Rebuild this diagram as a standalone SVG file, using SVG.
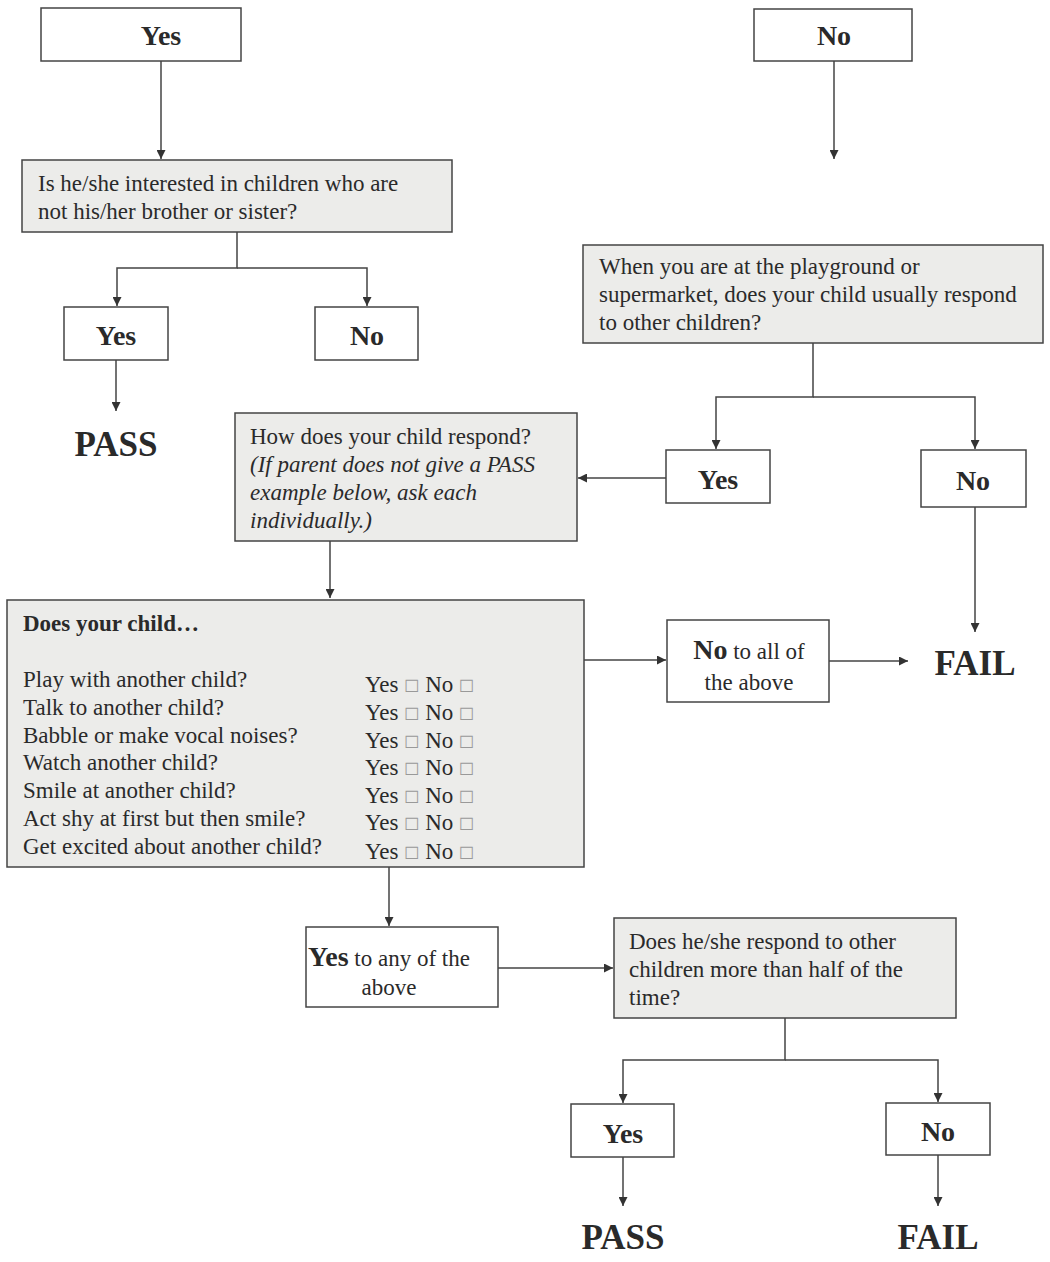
<svg xmlns="http://www.w3.org/2000/svg" width="1050" height="1262" viewBox="0 0 1050 1262">
  <style>
    .box { fill: #ffffff; stroke: #444; stroke-width: 1.5; }
    .q { fill: #ececea; stroke: #444; stroke-width: 1.5; }
    .t { font-family: "Liberation Serif", "Times New Roman", serif; font-size: 23px; fill: #2a2a2a; }
    .it { font-style: italic; }
    .lbl { font-family: "Liberation Serif", "Times New Roman", serif; font-size: 28px; font-weight: bold; fill: #2a2a2a; text-anchor: middle; }
    .res { font-family: "Liberation Serif", "Times New Roman", serif; font-size: 35px; font-weight: bold; fill: #2a2a2a; text-anchor: middle; }
    .ck { font-family: "DejaVu Sans", sans-serif; font-size: 17px; fill: #999; }
    .ln { fill: none; stroke: #444; stroke-width: 1.5; }
  </style>
  <defs>
    <marker id="ah" viewBox="0 0 10 10" refX="10" refY="5" markerWidth="9" markerHeight="9" markerUnits="userSpaceOnUse" orient="auto">
      <path d="M0,0 L10,5 L0,10 z" fill="#333"/>
    </marker>
  </defs>

  <!-- connectors -->
  <g id="connectors">
    <line class="ln" x1="161" y1="61" x2="161" y2="159" marker-end="url(#ah)"/>
    <line class="ln" x1="834" y1="61" x2="834" y2="159" marker-end="url(#ah)"/>
    <polyline class="ln" points="237,232 237,268 117,268 117,306" marker-end="url(#ah)"/>
    <polyline class="ln" points="237,268 367,268 367,306" marker-end="url(#ah)"/>
    <line class="ln" x1="116" y1="360" x2="116" y2="411" marker-end="url(#ah)"/>
    <polyline class="ln" points="813,343 813,397 716,397 716,449" marker-end="url(#ah)"/>
    <polyline class="ln" points="813,397 975,397 975,449" marker-end="url(#ah)"/>
    <line class="ln" x1="666" y1="478" x2="578" y2="478" marker-end="url(#ah)"/>
    <line class="ln" x1="975" y1="507" x2="975" y2="632" marker-end="url(#ah)"/>
    <line class="ln" x1="330" y1="541" x2="330" y2="598" marker-end="url(#ah)"/>
    <line class="ln" x1="584" y1="660" x2="666" y2="660" marker-end="url(#ah)"/>
    <line class="ln" x1="829" y1="661" x2="908" y2="661" marker-end="url(#ah)"/>
    <line class="ln" x1="389" y1="867" x2="389" y2="926" marker-end="url(#ah)"/>
    <line class="ln" x1="498" y1="968" x2="613" y2="968" marker-end="url(#ah)"/>
    <polyline class="ln" points="785,1018 785,1060 623,1060 623,1103" marker-end="url(#ah)"/>
    <polyline class="ln" points="785,1060 938,1060 938,1102" marker-end="url(#ah)"/>
    <line class="ln" x1="623" y1="1157" x2="623" y2="1206" marker-end="url(#ah)"/>
    <line class="ln" x1="938" y1="1155" x2="938" y2="1206" marker-end="url(#ah)"/>
  </g>

  <g id="start-yes">
    <rect class="box" x="41" y="8" width="200" height="53"/>
    <text class="lbl" x="161" y="45">Yes</text>
  </g>
  <g id="start-no">
    <rect class="box" x="754" y="9" width="158" height="52"/>
    <text class="lbl" x="834" y="45">No</text>
  </g>

  <g id="q-siblings">
    <rect class="q" x="22" y="160" width="430" height="72"/>
    <text class="t" x="38" y="191">Is he/she interested in children who are</text>
    <text class="t" x="38" y="219">not his/her brother or sister?</text>
  </g>
  <g id="siblings-yes">
    <rect class="box" x="64" y="307" width="104" height="53"/>
    <text class="lbl" x="116" y="345">Yes</text>
  </g>
  <g id="siblings-no">
    <rect class="box" x="315" y="307" width="103" height="53"/>
    <text class="lbl" x="367" y="345">No</text>
  </g>
  <g id="pass-1">
    <text class="res" x="116" y="456">PASS</text>
  </g>

  <g id="q-playground">
    <rect class="q" x="583" y="245" width="460" height="98"/>
    <text class="t" x="599" y="274">When you are at the playground or</text>
    <text class="t" x="599" y="302">supermarket, does your child usually respond</text>
    <text class="t" x="599" y="330">to other children?</text>
  </g>
  <g id="playground-yes">
    <rect class="box" x="666" y="450" width="104" height="53"/>
    <text class="lbl" x="718" y="489">Yes</text>
  </g>
  <g id="playground-no">
    <rect class="box" x="921" y="450" width="105" height="57"/>
    <text class="lbl" x="973" y="490">No</text>
  </g>

  <g id="q-how">
    <rect class="q" x="235" y="413" width="342" height="128"/>
    <text class="t" x="250" y="444">How does your child respond?</text>
    <text class="t it" x="250" y="472">(If parent does not give a PASS</text>
    <text class="t it" x="250" y="500">example below, ask each</text>
    <text class="t it" x="250" y="528">individually.)</text>
  </g>

  <g id="q-does">
    <rect class="q" x="7" y="600" width="577" height="267"/>
    <text class="t" x="23" y="631" font-weight="bold" font-size="22">Does your child…</text>
    <text class="t" x="23" y="687">Play with another child?</text>
    <text class="t" x="23" y="715">Talk to another child?</text>
    <text class="t" x="23" y="743">Babble or make vocal noises?</text>
    <text class="t" x="23" y="770">Watch another child?</text>
    <text class="t" x="23" y="798">Smile at another child?</text>
    <text class="t" x="23" y="826">Act shy at first but then smile?</text>
    <text class="t" x="23" y="854">Get excited about another child?</text>
    <g>
      <text class="t" x="365" y="692">Yes <tspan class="ck">☐</tspan> No <tspan class="ck">☐</tspan></text>
      <text class="t" x="365" y="720">Yes <tspan class="ck">☐</tspan> No <tspan class="ck">☐</tspan></text>
      <text class="t" x="365" y="748">Yes <tspan class="ck">☐</tspan> No <tspan class="ck">☐</tspan></text>
      <text class="t" x="365" y="775">Yes <tspan class="ck">☐</tspan> No <tspan class="ck">☐</tspan></text>
      <text class="t" x="365" y="803">Yes <tspan class="ck">☐</tspan> No <tspan class="ck">☐</tspan></text>
      <text class="t" x="365" y="830">Yes <tspan class="ck">☐</tspan> No <tspan class="ck">☐</tspan></text>
      <text class="t" x="365" y="859">Yes <tspan class="ck">☐</tspan> No <tspan class="ck">☐</tspan></text>
    </g>
  </g>

  <g id="no-to-all">
    <rect class="box" x="667" y="620" width="162" height="82"/>
    <text class="t" x="749" y="659" text-anchor="middle"><tspan font-weight="bold" font-size="28">No</tspan> to all of</text>
    <text class="t" x="749" y="690" text-anchor="middle">the above</text>
  </g>
  <g id="fail-1">
    <text class="res" x="975" y="675">FAIL</text>
  </g>

  <g id="yes-to-any">
    <rect class="box" x="306" y="927" width="192" height="80"/>
    <text class="t" x="389" y="966" text-anchor="middle"><tspan font-weight="bold" font-size="28">Yes</tspan> to any of the</text>
    <text class="t" x="389" y="995" text-anchor="middle">above</text>
  </g>

  <g id="q-half">
    <rect class="q" x="614" y="918" width="342" height="100"/>
    <text class="t" x="629" y="949">Does he/she respond to other</text>
    <text class="t" x="629" y="977">children more than half of the</text>
    <text class="t" x="629" y="1005">time?</text>
  </g>
  <g id="half-yes">
    <rect class="box" x="571" y="1104" width="103" height="53"/>
    <text class="lbl" x="623" y="1143">Yes</text>
  </g>
  <g id="half-no">
    <rect class="box" x="886" y="1103" width="104" height="52"/>
    <text class="lbl" x="938" y="1141">No</text>
  </g>
  <g id="pass-2">
    <text class="res" x="623" y="1249">PASS</text>
  </g>
  <g id="fail-2">
    <text class="res" x="938" y="1249">FAIL</text>
  </g>
</svg>
